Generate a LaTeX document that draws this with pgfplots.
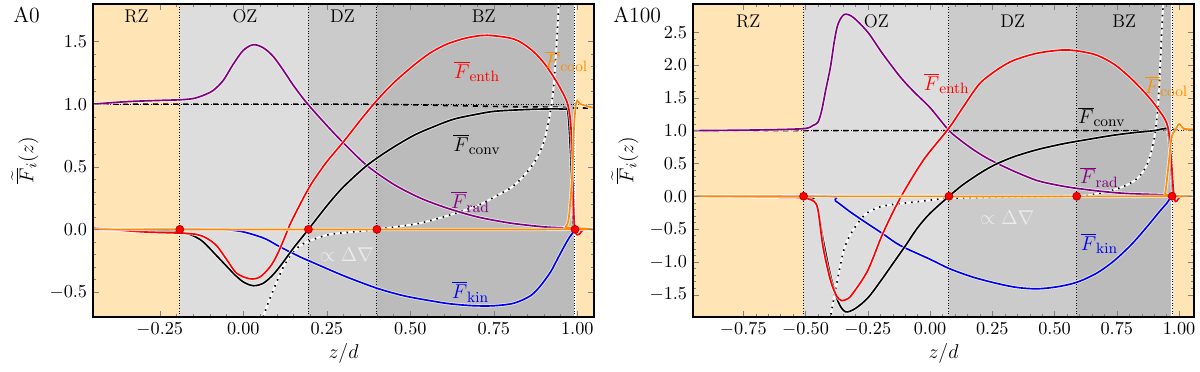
\documentclass[border=0pt]{standalone}
\usepackage{pgfplots}
\usepackage{pgfplotstable}
\pgfplotsset{compat=1.18}
\definecolor{rzc}{RGB}{255,228,181}
\definecolor{ozc}{RGB}{221,221,221}
\definecolor{dzc}{RGB}{203,203,203}
\definecolor{bzc}{RGB}{187,187,187}
\definecolor{fpurple}{RGB}{128,0,128}
\definecolor{forange}{RGB}{255,140,0}
\definecolor{fblue}{RGB}{0,0,240}
\definecolor{fred}{RGB}{255,0,0}

% ---------- A0 : Delta nabla ----------
\pgfplotstableread{
z F
0.050 -0.80
0.061 -0.69
0.08 -0.55
0.10 -0.42
0.12 -0.30
0.14 -0.21
0.17 -0.13
0.21 -0.08
0.26 -0.04
0.33 -0.02
0.40 0.0
0.47 0.025
0.53 0.05
0.60 0.10
0.66 0.15
0.71 0.20
0.76 0.27
0.80 0.33
0.83 0.40
0.87 0.53
0.90 0.70
0.92 0.95
0.93 1.17
0.94 1.57
0.945 1.84
0.95 2.10
}\dvA
% ---------- A100 : Delta nabla ----------
\pgfplotstableread{
z F
-0.405 -2.00
-0.40 -1.84
-0.38 -1.43
-0.35 -0.87
-0.33 -0.66
-0.31 -0.52
-0.28 -0.36
-0.255 -0.26
-0.22 -0.19
-0.19 -0.15
-0.12 -0.11
-0.067 -0.09
0.0 -0.06
0.076 -0.03
0.30 -0.01
0.59 0.0
0.67 0.04
0.74 0.10
0.80 0.19
0.84 0.30
0.87 0.47
0.89 0.70
0.905 1.00
0.917 1.46
0.93 2.48
0.937 2.99
0.94 3.20
}\dvB

\tikzset{bnd/.style={densely dotted, line width=0.6pt}}
\pgfplotsset{
  fluxax/.style={
    scale only axis, width=300.6pt, height=187.8pt,
    axis on top, tick align=inside, minor tick num=4,
    major tick length=3.5pt, minor tick length=2pt,
    axis line style={line width=0.8pt},
    tick label style={font=\fontsize{11}{13}\selectfont},
    xticklabel style={/pgf/number format/.cd, fixed, fixed zerofill, precision=2},
    yticklabel style={/pgf/number format/.cd, fixed, fixed zerofill, precision=1},
    xlabel={$z/d$}, ylabel={$\widetilde{\overline{F}}_i(z)$},
    label style={font=\fontsize{13}{15}\selectfont},
    xlabel style={at={(axis description cs:0.5,-0.118)}, anchor=center},
    ylabel style={at={(axis description cs:-0.136,0.5)}, anchor=center},
  },
  fc/.style={line width=1pt, smooth, tension=0.5,
     preaction={draw=white, line width=2pt, opacity=0.7}},
  dots/.style={only marks, mark=*, mark size=2.4pt,
     mark options={fill=red, draw=red!70!black, line width=0.4pt}},
}
\tikzset{zl/.style={font=\fontsize{11}{13}\selectfont},
  cl/.style={font=\fontsize{13}{15}\selectfont}}

\begin{document}
\begin{tikzpicture}
\path[use as bounding box] (-55.8pt,-32.4pt) rectangle (664.2pt,190.2pt);
% ================= A0 =================
\begin{axis}[fluxax, name=ax1, at={(0,0)}, anchor=south west,
  xmin=-0.45, xmax=1.05, ymin=-0.7, ymax=1.8,
  xtick={-0.25,0,0.25,0.5,0.75,1}, ytick={-0.5,0,0.5,1,1.5}]
\fill[rzc] (axis cs:-0.45,-0.7) rectangle (axis cs:-0.19,1.8);
\fill[ozc] (axis cs:-0.19,-0.7) rectangle (axis cs:0.195,1.8);
\fill[dzc] (axis cs:0.195,-0.7) rectangle (axis cs:0.40,1.8);
\fill[bzc] (axis cs:0.40,-0.7) rectangle (axis cs:0.993,1.8);
\fill[rzc] (axis cs:0.993,-0.7) rectangle (axis cs:1.05,1.8);
\draw[bnd] (axis cs:-0.19,-0.7) -- (axis cs:-0.19,1.8);
\draw[bnd] (axis cs:0.195,-0.7) -- (axis cs:0.195,1.8);
\draw[bnd] (axis cs:0.40,-0.7) -- (axis cs:0.40,1.8);
\draw[white, line width=1pt] (axis cs:0.993,-0.7) -- (axis cs:0.993,1.8);
\draw[bnd] (axis cs:0.993,-0.7) -- (axis cs:0.993,1.8);
\node[zl] at (axis cs:-0.32,1.70) {RZ};
\node[zl] at (axis cs:0.005,1.70) {OZ};
\node[zl] at (axis cs:0.297,1.70) {DZ};
\node[zl] at (axis cs:0.72,1.70) {BZ};
% Delta nabla
\addplot[white, line width=1.2pt, smooth] table[x=z,y=F] {\dvA};
\addplot[black, line width=1pt, smooth, dash pattern=on 0.9pt off 3pt] table[x=z,y=F] {\dvA};
\draw[densely dotted, line width=0.5pt] (axis cs:-0.45,1) -- (axis cs:1.05,1);
% total
\addplot[black, line width=1pt, dashed] coordinates {(-0.45,1.0) (0.40,1.0) (0.6,0.99) (0.8,0.98) (0.95,0.975) (0.98,0.97) (1.05,0.97)};
% F_rad
\addplot[fpurple, fc] coordinates {(-0.45,1.00) (-0.35,1.02) (-0.25,1.03) (-0.19,1.035) (-0.15,1.045) (-0.12,1.07) (-0.09,1.11) (-0.06,1.19) (-0.03,1.32) (0.00,1.43) (0.03,1.475) (0.06,1.45) (0.09,1.38) (0.12,1.27) (0.15,1.15) (0.19,1.01) (0.25,0.83) (0.30,0.69) (0.37,0.51) (0.45,0.36) (0.53,0.25) (0.61,0.17) (0.70,0.10) (0.80,0.05) (0.90,0.02) (0.97,0.01) (1.00,0.0) (1.05,0.0)};
% F_kin
\addplot[fblue, fc] coordinates {(-0.45,0) (-0.08,0) (-0.04,-0.005) (0.0,-0.02) (0.04,-0.05) (0.07,-0.08) (0.11,-0.14) (0.17,-0.22) (0.20,-0.255) (0.30,-0.37) (0.40,-0.47) (0.48,-0.53) (0.56,-0.57) (0.62,-0.595) (0.69,-0.61) (0.75,-0.61) (0.81,-0.59) (0.86,-0.53) (0.89,-0.45) (0.92,-0.34) (0.94,-0.24) (0.96,-0.14) (0.98,-0.05) (1.0,0.0) (1.05,0)};
% F_conv
\addplot[black, fc] coordinates {(-0.45,0.0) (-0.30,-0.01) (-0.19,-0.02) (-0.13,-0.08) (-0.08,-0.21) (-0.03,-0.35) (0.0,-0.42) (0.03,-0.45) (0.06,-0.43) (0.09,-0.36) (0.12,-0.26) (0.15,-0.15) (0.195,0.0) (0.23,0.12) (0.26,0.22) (0.30,0.34) (0.37,0.51) (0.44,0.64) (0.51,0.75) (0.57,0.82) (0.63,0.88) (0.70,0.92) (0.76,0.945) (0.88,0.96) (0.96,0.96) (0.972,0.93) (0.98,0.6) (0.988,0.05) (0.995,0.0) (1.05,0.0)};
% F_enth
\addplot[fred, fc] coordinates {(-0.45,0.01) (-0.40,0.0) (-0.30,-0.02) (-0.19,-0.03) (-0.14,-0.04) (-0.11,-0.07) (-0.08,-0.13) (-0.05,-0.24) (-0.02,-0.35) (0.02,-0.395) (0.05,-0.38) (0.08,-0.30) (0.10,-0.21) (0.12,-0.09) (0.14,0.04) (0.17,0.20) (0.19,0.30) (0.21,0.39) (0.25,0.54) (0.30,0.70) (0.35,0.87) (0.40,1.03) (0.45,1.17) (0.51,1.31) (0.56,1.41) (0.61,1.48) (0.67,1.53) (0.73,1.55) (0.81,1.52) (0.86,1.44) (0.90,1.33) (0.94,1.17) (0.97,1.01) (0.98,0.85) (0.985,0.55) (0.99,0.1) (0.995,-0.03) (1.005,-0.04) (1.02,0.0) (1.05,0.0)};
% F_cool
\addplot[forange, fc] coordinates {(-0.45,0) (0.95,0) (0.965,0.02) (0.975,0.1) (0.985,0.45) (0.99,0.8) (0.995,0.98) (1.0,1.03) (1.01,1.0) (1.05,0.97)};
\addplot[dots] coordinates {(-0.19,0) (0.195,0) (0.40,0) (0.993,0)};
\node[fred, cl] at (axis cs:0.70,1.26) {$\overline{F}_{\rm enth}$};
\node[forange, cl, anchor=east] at (axis cs:1.05,1.34) {$\overline{F}_{\rm cool}$};
\node[black, cl] at (axis cs:0.70,0.68) {$\overline{F}_{\rm conv}$};
\node[fpurple, cl] at (axis cs:0.68,0.22) {$\overline{F}_{\rm rad}$};
\node[fblue, cl] at (axis cs:0.68,-0.50) {$\overline{F}_{\rm kin}$};
\node[gray!15, cl] at (axis cs:0.31,-0.20) {$\propto \Delta\nabla$};
\end{axis}
\node[anchor=west, inner sep=0pt, font=\fontsize{13}{15}\selectfont] at ([xshift=-48pt, yshift=-6.6pt]ax1.north west) {A0};
% ================= A100 =================
\begin{axis}[fluxax, name=ax2, at={(360pt,0)}, anchor=south west,
  xmin=-0.952, xmax=1.06, ymin=-1.84, ymax=2.93,
  xtick={-0.75,-0.5,-0.25,0,0.25,0.5,0.75,1}, ytick={-1.5,-1,-0.5,0,0.5,1,1.5,2,2.5}]
\fill[rzc] (axis cs:-0.952,-1.84) rectangle (axis cs:-0.508,2.93);
\fill[ozc] (axis cs:-0.508,-1.84) rectangle (axis cs:0.076,2.93);
\fill[dzc] (axis cs:0.076,-1.84) rectangle (axis cs:0.589,2.93);
\fill[bzc] (axis cs:0.589,-1.84) rectangle (axis cs:0.972,2.93);
\fill[rzc] (axis cs:0.972,-1.84) rectangle (axis cs:1.06,2.93);
\draw[bnd] (axis cs:-0.508,-1.84) -- (axis cs:-0.508,2.93);
\draw[bnd] (axis cs:0.076,-1.84) -- (axis cs:0.076,2.93);
\draw[bnd] (axis cs:0.589,-1.84) -- (axis cs:0.589,2.93);
\draw[white, line width=1pt] (axis cs:0.972,-1.84) -- (axis cs:0.972,2.93);
\draw[bnd] (axis cs:0.972,-1.84) -- (axis cs:0.972,2.93);
\node[zl] at (axis cs:-0.73,2.67) {RZ};
\node[zl] at (axis cs:-0.216,2.67) {OZ};
\node[zl] at (axis cs:0.332,2.67) {DZ};
\node[zl] at (axis cs:0.78,2.67) {BZ};
\addplot[white, line width=1.2pt, smooth] table[x=z,y=F] {\dvB};
\addplot[black, line width=1pt, smooth, dash pattern=on 0.9pt off 3pt] table[x=z,y=F] {\dvB};
\draw[densely dotted, line width=0.5pt] (axis cs:-0.952,1) -- (axis cs:1.06,1);
\addplot[black, line width=1pt, dashed] coordinates {(-0.952,1.0) (0.90,1.0) (0.95,1.02) (1.06,1.02)};
% F_rad
\addplot[fpurple, fc] coordinates {(-0.952,1.0) (-0.7,1.01) (-0.51,1.03) (-0.47,1.08) (-0.45,1.13) (-0.435,1.31) (-0.42,1.6) (-0.40,1.97) (-0.385,2.35) (-0.37,2.62) (-0.345,2.77) (-0.31,2.73) (-0.25,2.50) (-0.19,2.17) (-0.12,1.82) (-0.067,1.60) (0.0,1.35) (0.074,1.01) (0.12,0.86) (0.17,0.72) (0.22,0.60) (0.27,0.50) (0.35,0.36) (0.43,0.24) (0.51,0.17) (0.59,0.12) (0.70,0.07) (0.80,0.04) (0.95,0.02) (0.98,0.0) (1.06,0.0)};
% F_kin
\addplot[fblue, fc] coordinates {(-0.952,0) (-0.42,0) (-0.38,-0.07) (-0.32,-0.24) (-0.25,-0.42) (-0.19,-0.57) (-0.12,-0.75) (0.0,-0.96) (0.076,-1.10) (0.17,-1.23) (0.27,-1.33) (0.35,-1.39) (0.43,-1.41) (0.51,-1.38) (0.59,-1.31) (0.67,-1.17) (0.74,-0.98) (0.81,-0.73) (0.87,-0.47) (0.92,-0.24) (0.95,-0.11) (0.977,0.0) (1.06,0)};
% F_conv
\addplot[black, fc] coordinates {(-0.952,0.0) (-0.51,-0.02) (-0.47,-0.06) (-0.45,-0.2) (-0.43,-0.65) (-0.40,-1.2) (-0.37,-1.6) (-0.34,-1.76) (-0.30,-1.71) (-0.25,-1.55) (-0.20,-1.30) (-0.15,-1.03) (-0.10,-0.76) (-0.05,-0.48) (0.0,-0.26) (0.076,0.0) (0.13,0.17) (0.2,0.35) (0.26,0.48) (0.335,0.60) (0.43,0.71) (0.535,0.80) (0.64,0.87) (0.736,0.93) (0.82,0.97) (0.90,1.0) (0.94,1.03) (0.955,1.0) (0.965,0.6) (0.975,0.05) (0.985,0.0) (1.06,0.0)};
% F_enth
\addplot[fred, fc] coordinates {(-0.952,0.0) (-0.7,-0.01) (-0.51,-0.02) (-0.49,-0.04) (-0.465,-0.08) (-0.45,-0.21) (-0.43,-0.77) (-0.40,-1.28) (-0.375,-1.52) (-0.355,-1.59) (-0.33,-1.56) (-0.31,-1.48) (-0.25,-1.13) (-0.19,-0.57) (-0.12,-0.03) (-0.027,0.55) (0.074,1.03) (0.14,1.40) (0.20,1.72) (0.27,1.93) (0.335,2.07) (0.43,2.18) (0.535,2.23) (0.60,2.21) (0.67,2.15) (0.74,2.01) (0.80,1.82) (0.86,1.59) (0.90,1.41) (0.945,1.16) (0.96,0.95) (0.97,0.5) (0.977,0.10) (0.985,-0.08) (0.995,-0.05) (1.01,0.0) (1.06,0.0)};
% F_cool
\addplot[forange, fc] coordinates {(-0.952,0) (0.93,0) (0.944,0.04) (0.957,0.45) (0.97,0.9) (0.984,1.0) (1.0,1.10) (1.02,1.03) (1.06,1.02)};
\addplot[dots] coordinates {(-0.508,0) (0.076,0) (0.589,0) (0.972,0)};
\node[fred, cl] at (axis cs:0.067,1.72) {$\overline{F}_{\rm enth}$};
\node[forange, cl, anchor=east] at (axis cs:1.06,1.67) {$\overline{F}_{\rm cool}$};
\node[black, cl] at (axis cs:0.69,1.21) {$\overline{F}_{\rm conv}$};
\node[fpurple, cl] at (axis cs:0.68,0.29) {$\overline{F}_{\rm rad}$};
\node[fblue, cl] at (axis cs:0.68,-0.72) {$\overline{F}_{\rm kin}$};
\node[gray!15, cl] at (axis cs:0.31,-0.32) {$\propto \Delta\nabla$};
\end{axis}
\node[anchor=west, inner sep=0pt, font=\fontsize{13}{15}\selectfont] at ([xshift=-48pt, yshift=-6.6pt]ax2.north west) {A100};
\end{tikzpicture}
\end{document}
